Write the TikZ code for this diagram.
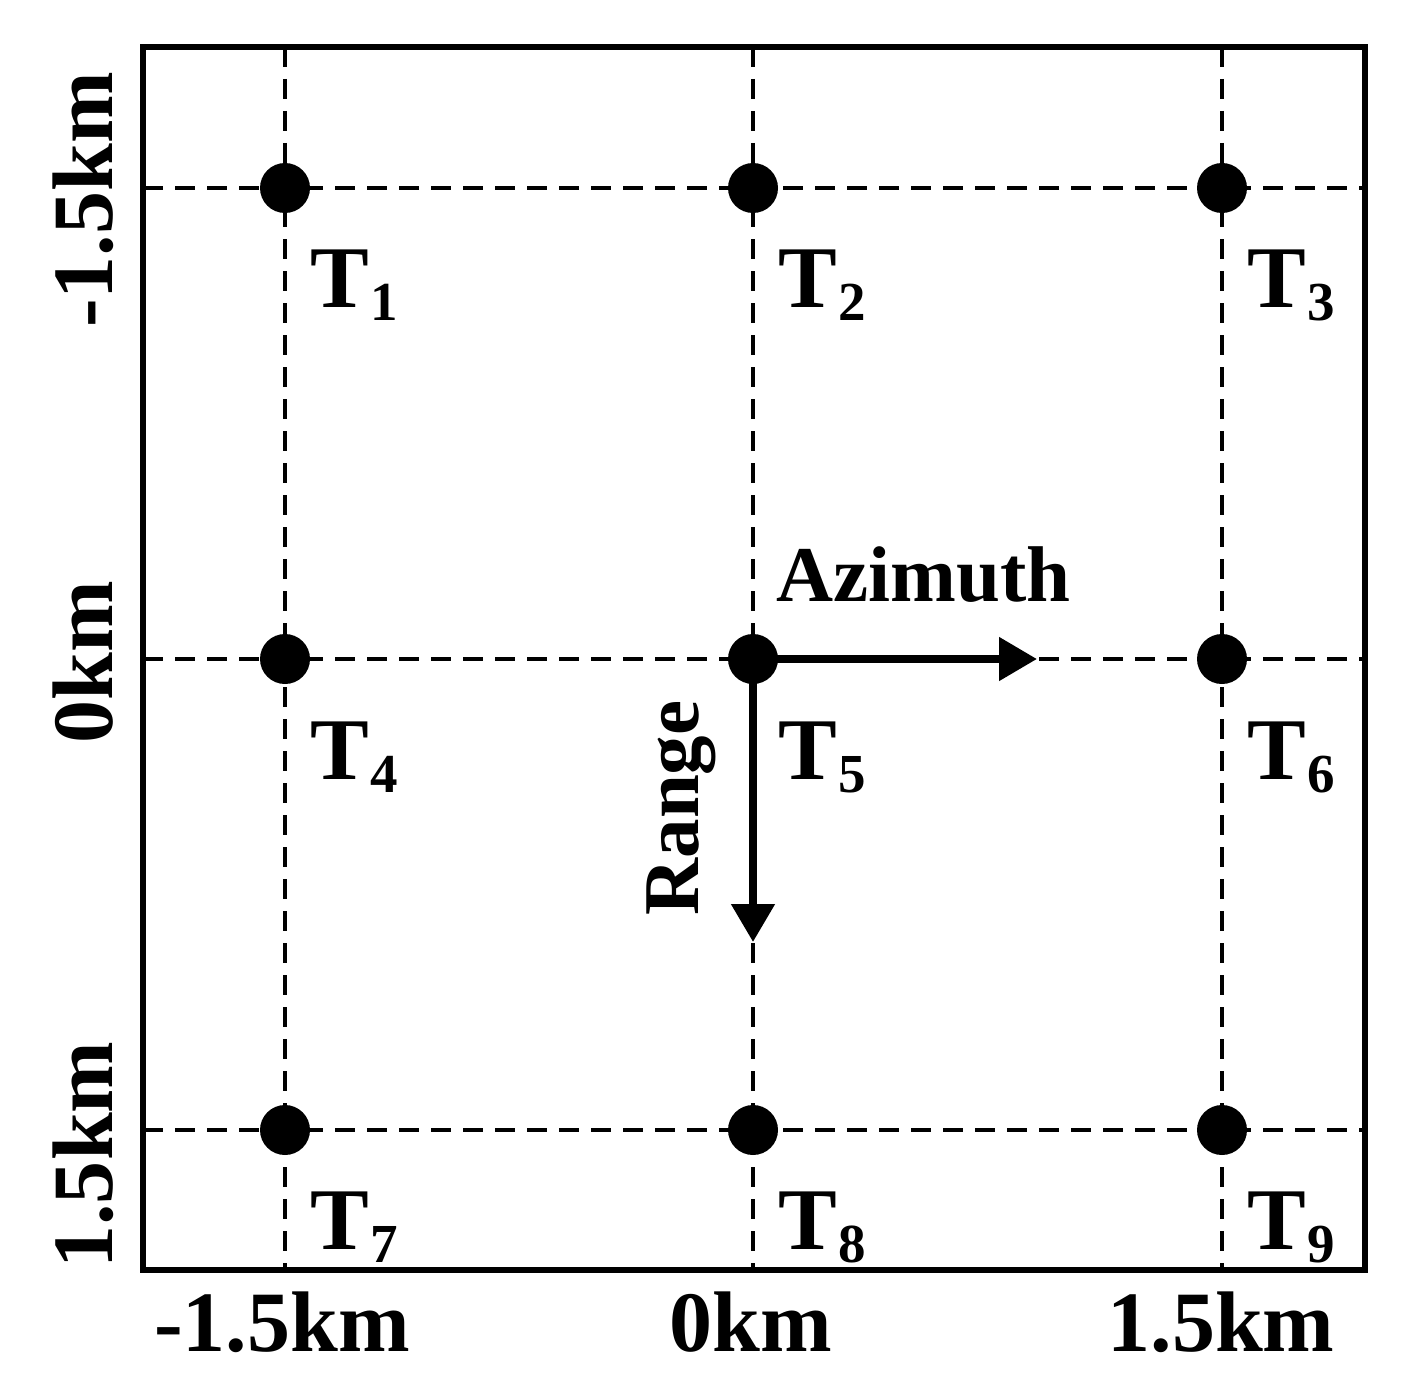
\documentclass[tikz,border=0pt]{standalone}
\usepackage{fontspec}
\setmainfont{Liberation Serif}
\usetikzlibrary{arrows.meta}
\begin{document}
\begin{tikzpicture}[x=1pt,y=-1pt,
  grid/.style={line width=4.5pt,dash pattern=on 20pt off 12pt},
  frame/.style={line width=5.5pt},
  dot/.style={circle,fill=black,inner sep=0pt,minimum size=50pt},
  tlabel/.style={anchor=base west,inner sep=0pt,font=\bfseries\fontsize{88}{96}\selectfont},
  axlabel/.style={inner sep=0pt,font=\bfseries\fontsize{86}{90}\selectfont},
  dirarrow/.style={line width=8pt,-{Triangle[length=38pt,width=42pt]}},
  dirlabel/.style={inner sep=0pt,font=\bfseries\fontsize{79}{84}\selectfont}]
\useasboundingbox (0,0) rectangle (1407,1391);
\newcommand{\tsub}[1]{T\kern2pt\raisebox{-13pt}{\fontsize{55}{60}\selectfont #1}}
% grid lines
\foreach \x in {285,753,1222} \draw[grid] (\x,47) -- (\x,1270);
\foreach \y in {188,659,1130} \draw[grid] (143,\y) -- (1365,\y);
\draw[frame] (143,47) rectangle (1365,1270);
% targets
\node[dot] (t1) at (285,188) {};
\node[dot] (t2) at (753,188) {};
\node[dot] (t3) at (1222,188) {};
\node[dot] (t4) at (285,659) {};
\node[dot] (t5) at (753,659) {};
\node[dot] (t6) at (1222,659) {};
\node[dot] (t7) at (285,1130) {};
\node[dot] (t8) at (753,1130) {};
\node[dot] (t9) at (1222,1130) {};
\node[tlabel] (l1) at (310,307) {\tsub{1}};
\node[tlabel] (l2) at (778,307) {\tsub{2}};
\node[tlabel] (l3) at (1247,307) {\tsub{3}};
\node[tlabel] (l4) at (310,779) {\tsub{4}};
\node[tlabel] (l5) at (778,779) {\tsub{5}};
\node[tlabel] (l6) at (1247,779) {\tsub{6}};
\node[tlabel] (l7) at (310,1249) {\tsub{7}};
\node[tlabel] (l8) at (778,1249) {\tsub{8}};
\node[tlabel] (l9) at (1247,1249) {\tsub{9}};
% direction arrows
\coordinate (azend) at (1037,659);
\coordinate (rgend) at (753,942);
\draw[dirarrow] (t5.center) -- (azend);
\draw[dirarrow] (t5.center) -- (rgend);
\node[dirlabel,anchor=base west] (az) at (776,601) {Azimuth};
\node[dirlabel,rotate=90,anchor=base] (rg) at (698,808) {Range};
% axis labels
\node[axlabel,anchor=base] (xa) at (282,1351) {-1.5km};
\node[axlabel,anchor=base] (xb) at (751,1351) {0km};
\node[axlabel,anchor=base] (xc) at (1221,1351) {1.5km};
\node[axlabel,rotate=90,anchor=base] (ya) at (112,200) {-1.5km};
\node[axlabel,rotate=90,anchor=base] (yb) at (112,662) {0km};
\node[axlabel,rotate=90,anchor=base] (yc) at (112,1155) {1.5km};
\end{tikzpicture}
\end{document}
